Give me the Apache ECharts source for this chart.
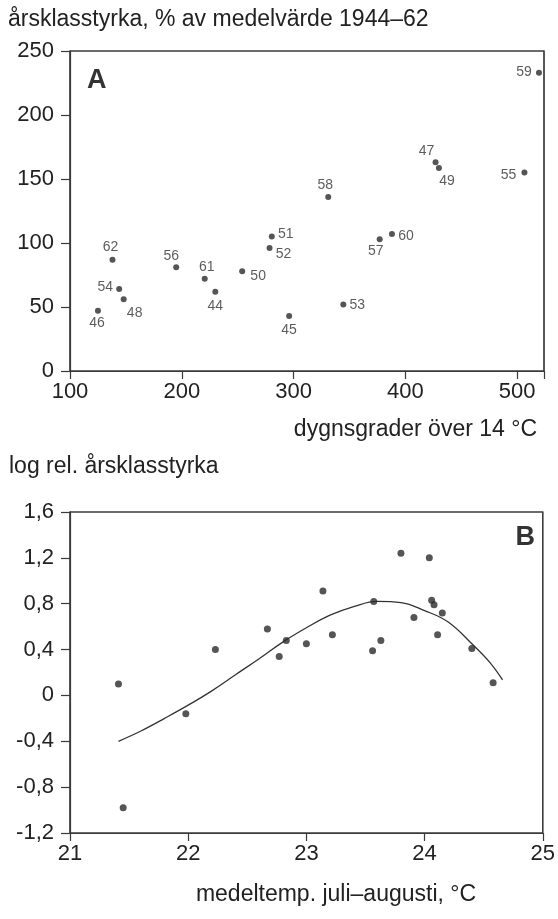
<!DOCTYPE html>
<html><head><meta charset="utf-8">
<script src="https://cdn.jsdelivr.net/npm/echarts@6/dist/echarts.min.js"></script>
<style>html,body{margin:0;padding:0;background:#fff}#c{width:558px;height:919px}</style>
</head><body><div id="c"></div>
<script>
// ---------- Panel A data ----------
const yearsA = ['46','62','54','48','56','61','44','50','52','51','45','58','53','57','60','47','49','55','59'];
const dygnsgrader = [125,138,144,148,195,220.5,230,254,278.5,280.5,296,331,344.5,377,388,427,430,506.5,519.5];
const arsklass = [47,87,64,56,81,72,62,78,96,105,43,136,52,103,107,163,158.5,155,233];
const ticksAx = [100,200,300,400,500];
const ticksAy = [0,50,100,150,200,250];
const maxAx = 524;

// ---------- Panel B data ----------
const tempB = [21.41,21.45,21.98,22.23,22.67,22.77,22.83,23.00,23.14,23.22,23.56,23.57,23.63,23.80,23.91,24.04,24.06,24.08,24.15,24.11,24.40,24.58];
const logB  = [0.10,-0.98,-0.16,0.40,0.58,0.34,0.48,0.45,0.91,0.53,0.39,0.82,0.48,1.24,0.68,1.20,0.83,0.79,0.72,0.53,0.41,0.11];
const curveX = [21.41,21.60,21.80,22.00,22.20,22.40,22.60,22.80,23.00,23.20,23.40,23.60,23.80,24.00,24.20,24.40,24.55,24.66];
const curveY = [-0.40,-0.31,-0.20,-0.085,0.04,0.18,0.32,0.465,0.59,0.70,0.775,0.82,0.81,0.74,0.64,0.45,0.29,0.135];
const ticksBx = [21,22,23,24,25];
const ticksBy = [-1.2,-0.8,-0.4,0,0.4,0.8,1.2,1.6];

// ---------- layout (label offsets, px) ----------
const labelOffsets = {'46':[-1,12],'62':[-2,-12],'54':[-14,-2],'48':[11,14],'56':[-5,-11],'61':[2,-12],
  '44':[0,15],'50':[16,5],'52':[14,6],'51':[14,-2],'45':[0,14],'58':[-3,-12],'53':[14,1],'57':[-4,12],
  '60':[14,2],'47':[-9,-11],'49':[8,13],'55':[-16,3],'59':[-15,-1]};

const FONT = '"Liberation Sans", Arial, Helvetica, sans-serif';
const TXT = '#222';
const LINE = '#3a3a3a';

function axisCommon(extra) {
  return Object.assign({
    type: 'value',
    axisLine: {show: true, onZero: false, lineStyle: {color: LINE, width: 1.2}},
    axisTick: {show: true, inside: false, length: 8, lineStyle: {color: LINE, width: 1.2}},
    splitLine: {show: false},
    axisLabel: {fontFamily: FONT, fontSize: 22, color: TXT}
  }, extra);
}
function frame(x0, y0, x1, y1) {
  return {
    silent: true,
    itemStyle: {color: 'rgba(0,0,0,0)', borderColor: LINE, borderWidth: 1.2},
    label: {show: false},
    data: [[{coord: [x0, y0]}, {coord: [x1, y1]}]]
  };
}

const chart = echarts.init(document.getElementById('c'), null, {renderer: 'canvas'});
const option = {
  animation: false,
  backgroundColor: '#fff',
  grid: [
    {left: 70, top: 51, width: 474, height: 320, show: true, borderColor: LINE, borderWidth: 1.2, backgroundColor: 'rgba(0,0,0,0)'},
    {left: 70, top: 512, width: 476, height: 321, show: true, borderColor: LINE, borderWidth: 1.2, backgroundColor: 'rgba(0,0,0,0)'}
  ],
  xAxis: [
    axisCommon({gridIndex: 0, min: ticksAx[0], max: maxAx, interval: 100,
      axisLabel: {fontFamily: FONT, fontSize: 22, color: TXT, margin: 10, lineHeight: 22,
        formatter: v => ticksAx.includes(v) ? String(v) : ''}}),
    axisCommon({gridIndex: 1, min: ticksBx[0], max: ticksBx[ticksBx.length-1], interval: 1,
      axisLabel: {fontFamily: FONT, fontSize: 22, color: TXT, margin: 10, lineHeight: 22}})
  ],
  yAxis: [
    axisCommon({gridIndex: 0, min: ticksAy[0], max: ticksAy[ticksAy.length-1], interval: 50,
      axisTick: {show: true, length: 9, lineStyle: {color: LINE, width: 1.2}},
      axisLabel: {fontFamily: FONT, fontSize: 22, color: TXT, margin: 16, lineHeight: 22, padding: [0,0,10,0]}}),
    axisCommon({gridIndex: 1, min: ticksBy[0], max: ticksBy[ticksBy.length-1], interval: 0.4,
      axisTick: {show: true, length: 9, lineStyle: {color: LINE, width: 1.2}},
      axisLabel: {fontFamily: FONT, fontSize: 22, color: TXT, margin: 16, lineHeight: 22, padding: [0,0,10,0],
        formatter: v => Math.abs(v) < 1e-9 ? '0' : v.toFixed(1).replace('.', ',')}})
  ],
  series: [
    {
      type: 'scatter', xAxisIndex: 0, yAxisIndex: 0, symbolSize: 6, clip: false,
      itemStyle: {color: '#2b2b2b'},
      label: {show: true, position: 'inside', formatter: '{b}', fontFamily: FONT, fontSize: 14, color: '#333',
        align: 'center', verticalAlign: 'middle'},
      markArea: frame(ticksAx[0], ticksAy[0], maxAx, ticksAy[ticksAy.length-1]),
      data: yearsA.map((yr, i) => ({name: yr, value: [dygnsgrader[i], arsklass[i]],
        label: {offset: labelOffsets[yr]}}))
    },
    {
      type: 'line', xAxisIndex: 1, yAxisIndex: 1, smooth: 0.4, showSymbol: false, symbol: 'none',
      lineStyle: {color: '#333', width: 1.3}, z: 1,
      data: curveX.map((x, i) => [x, curveY[i]])
    },
    {
      type: 'scatter', xAxisIndex: 1, yAxisIndex: 1, symbolSize: 7, z: 3, clip: false,
      itemStyle: {color: '#2b2b2b'},
      markArea: frame(ticksBx[0], ticksBy[0], ticksBx[ticksBx.length-1], ticksBy[ticksBy.length-1]),
      data: tempB.map((x, i) => [x, logB[i]])
    }
  ],
  graphic: [
    {type: 'text', x: 8, y: 20, style: {text: 'årsklasstyrka, % av medelvärde 1944–62', font: '23px ' + FONT, fill: TXT,
      align: 'left', verticalAlign: 'middle', textAlign: 'left', textVerticalAlign: 'middle'}},
    {type: 'text', x: 87, y: 80.5, style: {text: 'A', font: 'bold 27px ' + FONT, fill: '#333',
      align: 'left', verticalAlign: 'middle', textAlign: 'left', textVerticalAlign: 'middle'}},
    {type: 'text', x: 537, y: 430, style: {text: 'dygnsgrader över 14 °C', font: '23px ' + FONT, fill: TXT,
      align: 'right', verticalAlign: 'middle', textAlign: 'right', textVerticalAlign: 'middle'}},
    {type: 'text', x: 9, y: 467, style: {text: 'log rel. årsklasstyrka', font: '23px ' + FONT, fill: TXT,
      align: 'left', verticalAlign: 'middle', textAlign: 'left', textVerticalAlign: 'middle'}},
    {type: 'text', x: 535, y: 537.5, style: {text: 'B', font: 'bold 27px ' + FONT, fill: '#333',
      align: 'right', verticalAlign: 'middle', textAlign: 'right', textVerticalAlign: 'middle'}},
    {type: 'text', x: 336, y: 895, style: {text: 'medeltemp. juli–augusti, °C', font: '23px ' + FONT, fill: TXT,
      align: 'center', verticalAlign: 'middle', textAlign: 'center', textVerticalAlign: 'middle'}}
  ]
};
chart.setOption(option);
</script>
</body></html>
